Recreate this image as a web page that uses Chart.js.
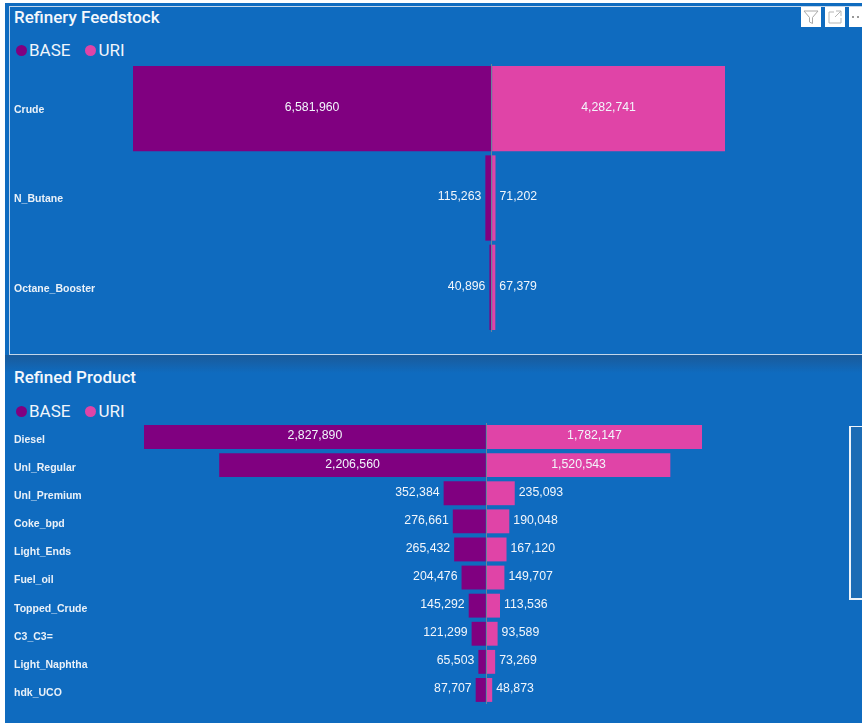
<!DOCTYPE html>
<html>
<head>
<meta charset="utf-8">
<script src="https://cdn.jsdelivr.net/npm/chart.js@4"></script>
<style>
html, body { margin: 0; padding: 0; background: #ffffff; }
body { width: 862px; height: 723px; overflow: hidden; position: relative; }
#panel { position: absolute; left: 5px; top: 3px; width: 857px; height: 720px; background: #0f6bbf; }
#frame { position: absolute; left: 9px; top: 6px; width: 860px; height: 347px; border: 1px solid #c3d6ea; }
#shade { position: absolute; left: 5px; top: 355px; width: 857px; height: 18px;
    background: linear-gradient(#1a5a9a, #0f6bbf); }
#side { position: absolute; left: 849px; top: 426px; width: 20px; height: 171px;
    border: 2px solid #eef4fa; border-top-width: 1px; background: #1c6cb5; }
.title { position: absolute; left: 14px; color: #f4f8fc; font: 500 17px Roboto, sans-serif; white-space: nowrap; }
.legend { position: absolute; left: 16px; color: #f0f5fb; font: 17px Roboto, sans-serif; white-space: nowrap; display: flex; align-items: center; }
.dot { width: 11px; height: 11px; border-radius: 50%; margin-right: 2px; }
.legend span.txt { margin-right: 15px; }
canvas { position: absolute; left: 0; }
.icon { position: absolute; top: 7px; width: 20px; height: 20px; background: #ffffff; }
</style>
</head>
<body>
<div id="panel"></div>
<div id="shade"></div>
<div id="frame"></div>
<div id="side"></div>

<div class="title" style="top:7px">Refinery Feedstock</div>
<div class="legend" id="legend1" style="top:40px"></div>
<div class="title" style="top:367px">Refined Product</div>
<div class="legend" id="legend2" style="top:401px"></div>

<div class="icon" style="left:801px"><svg width="20" height="20"><path d="M3 4 H17 L11.5 10.5 V16.5 L8.5 15 V10.5 Z" fill="none" stroke="#a9a9a9" stroke-width="1"/></svg></div>
<div class="icon" style="left:825px"><svg width="20" height="20"><path d="M9 5 H4 V16 H16 V11 M11 4 H16 V9 M16 4 L10 10" fill="none" stroke="#b5b5b5" stroke-width="1"/></svg></div>
<div class="icon" style="left:849px;width:13px"><svg width="13" height="20"><circle cx="4" cy="10" r="1" fill="#777"/><circle cx="9" cy="10" r="1" fill="#777"/></svg></div>

<canvas id="feedstock" width="862" height="268" style="top:64px"></canvas>
<canvas id="product" width="862" height="281" style="top:423px"></canvas>

<script>
const seriesNames = ["BASE", "URI"];
const baseColor = "#800080";
const uriColor = "#e044a7";

const feedCategories = ["Crude", "N_Butane", "Octane_Booster"];
const feedBase = [6581960, 115263, 40896];
const feedUri = [4282741, 71202, 67379];

const productCategories = ["Diesel", "Unl_Regular", "Unl_Premium", "Coke_bpd", "Light_Ends",
    "Fuel_oil", "Topped_Crude", "C3_C3=", "Light_Naphtha", "hdk_UCO"];
const productBase = [2827890, 2206560, 352384, 276661, 265432, 204476, 145292, 121299, 65503, 87707];
const productUri = [1782147, 1520543, 235093, 190048, 167120, 149707, 113536, 93589, 73269, 48873];

function buildLegend(id) {
    const box = document.getElementById(id);
    const colors = [baseColor, uriColor];
    seriesNames.forEach((name, i) => {
        const dot = document.createElement("span");
        dot.className = "dot";
        dot.style.background = colors[i];
        const txt = document.createElement("span");
        txt.className = "txt";
        txt.textContent = name;
        box.appendChild(dot);
        box.appendChild(txt);
    });
}

// values are printed inside a bar when they fit, otherwise next to it
const valueLabels = {
    id: "valueLabels",
    afterDatasetsDraw(chart) {
        const ctx = chart.ctx;
        ctx.save();
        ctx.font = "12.3px 'Liberation Sans'";
        ctx.fillStyle = "#f2f6fb";
        ctx.textBaseline = "middle";
        chart.data.datasets.forEach((set, d) => {
            chart.getDatasetMeta(d).data.forEach((bar, i) => {
                const text = Math.abs(set.data[i]).toLocaleString("en-US");
                const barWidth = Math.abs(bar.x - bar.base);
                const y = bar.y - 1;
                if (barWidth > ctx.measureText(text).width + 8) {
                    ctx.textAlign = "center";
                    ctx.fillText(text, (bar.x + bar.base) / 2, y);
                }
                else if (d == 0) {
                    ctx.textAlign = "right";
                    ctx.fillText(text, bar.x - 4, y);
                }
                else {
                    ctx.textAlign = "left";
                    ctx.fillText(text, bar.x + 4, y);
                }
            });
        });
        ctx.restore();
    }
};

function makeChart(id, categories, base, uri, leftEdge, rightEdge, barPct, tickShift) {
    const ctx = document.getElementById(id).getContext("2d");
    return new Chart(ctx, {
        type: "bar",
        data: {
            labels: categories,
            datasets: [
                { label: seriesNames[0], data: base.map(v => -v), backgroundColor: baseColor },
                { label: seriesNames[1], data: uri, backgroundColor: uriColor }
            ]
        },
        options: {
            indexAxis: "y",
            responsive: false,
            animation: false,
            barPercentage: barPct,
            categoryPercentage: 1,
            layout: { padding: { left: 14, right: 862 - rightEdge, top: 0, bottom: 0 } },
            plugins: { legend: { display: false }, title: { display: false }, tooltip: { enabled: false } },
            scales: {
                x: {
                    stacked: true,
                    min: -Math.max(...base),
                    max: Math.max(...uri),
                    ticks: { display: false },
                    border: { display: false },
                    grid: {
                        z: 1,
                        drawTicks: false,
                        lineWidth: 1,
                        color: c => (c.tick && c.tick.value === 0 ? "#6d8299" : "transparent")
                    }
                },
                y: {
                    stacked: true,
                    border: { display: false },
                    grid: { display: false },
                    afterFit: scale => {
                        scale.width = leftEdge - 14;
                        // no extra room for the first and last label
                        scale.paddingTop = 0;
                        scale.paddingBottom = 0;
                    },
                    ticks: {
                        crossAlign: "far",
                        color: "#eaf1f8",
                        padding: 0,
                        labelOffset: tickShift,
                        font: { family: "'Liberation Sans'", size: 10.5, weight: "bold" }
                    }
                }
            }
        },
        plugins: [valueLabels]
    });
}

buildLegend("legend1");
buildLegend("legend2");
makeChart("feedstock", feedCategories, feedBase, feedUri, 133, 725, 0.955, 1.5);
makeChart("product", productCategories, productBase, productUri, 144, 702, 0.85, 3);
</script>
</body>
</html>
